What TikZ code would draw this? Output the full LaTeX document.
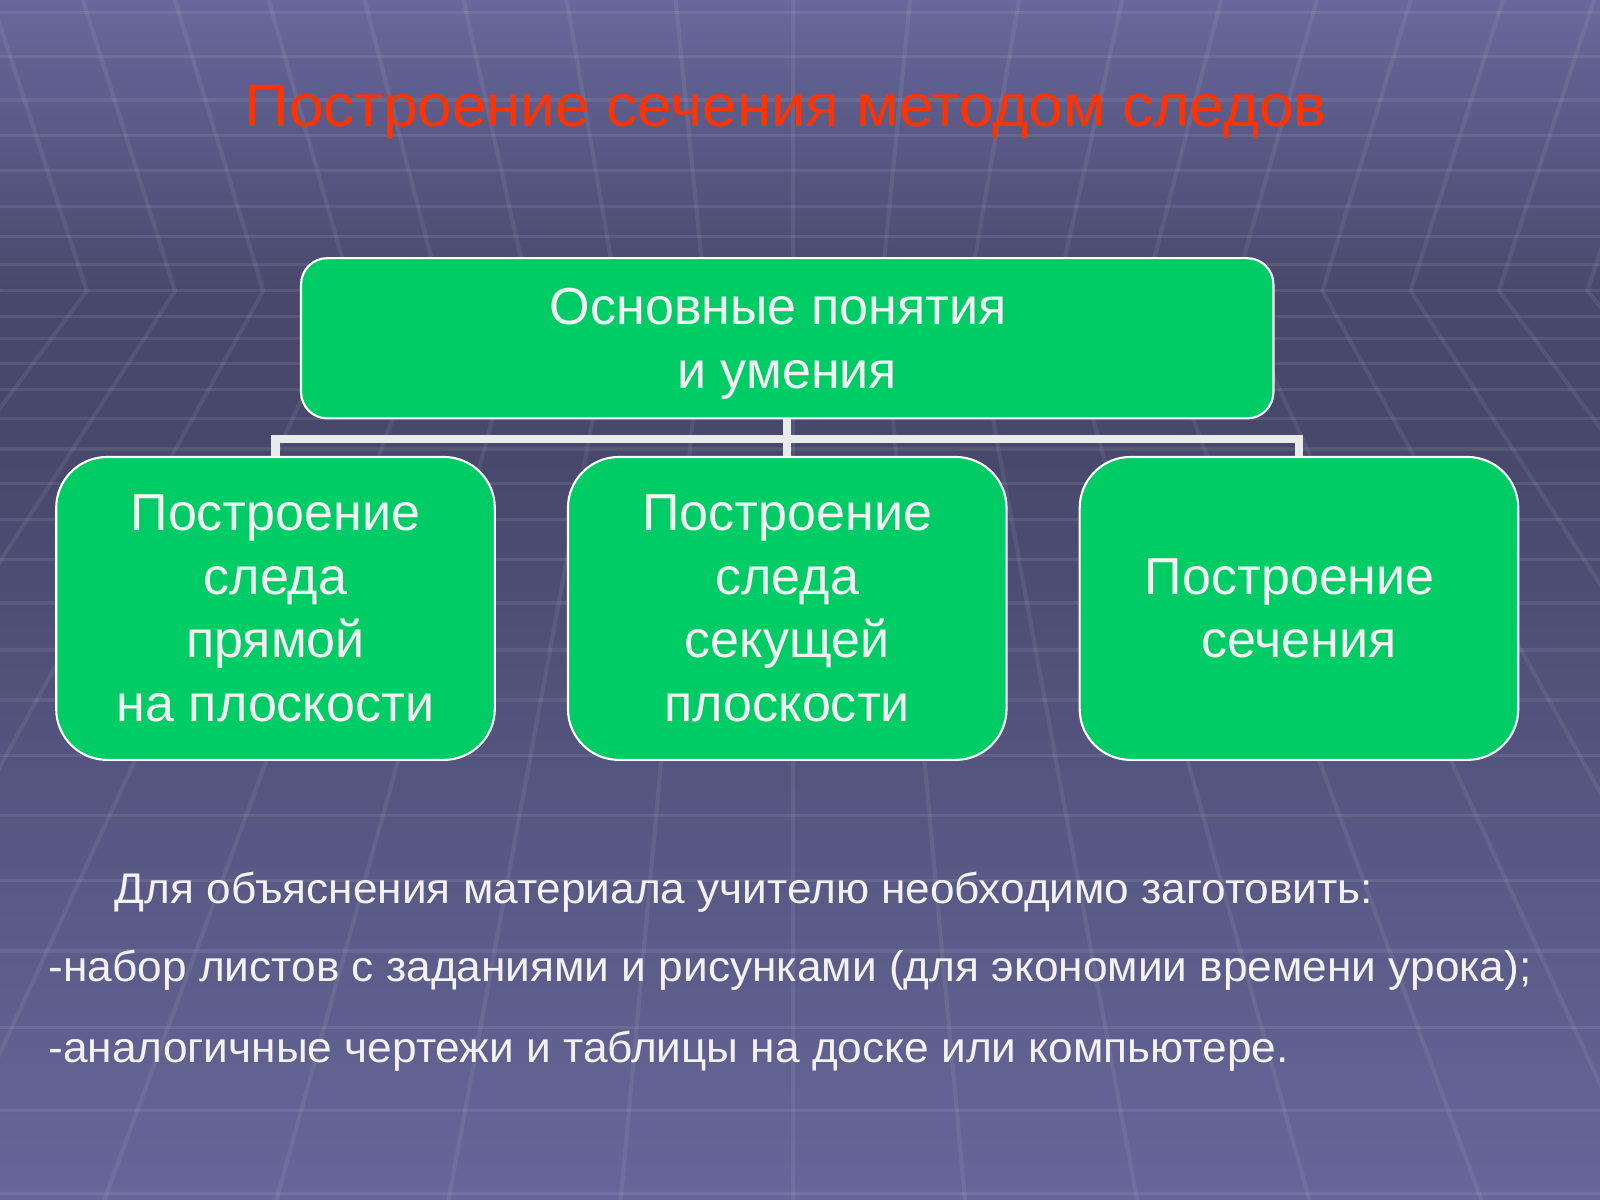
\documentclass[tikz,border=0pt]{standalone}
\usepackage{fontspec}
\setmainfont{Liberation Sans}
\usepackage{graphicx}
\definecolor{bgtop}{RGB}{104,104,156}
\definecolor{bgmid}{RGB}{72,72,108}
\definecolor{bgbot}{RGB}{102,102,154}
\definecolor{boxgreen}{RGB}{0,204,102}
\definecolor{titlered}{RGB}{255,51,0}
\definecolor{txtcol}{RGB}{242,242,242}
\definecolor{conncol}{RGB}{234,234,234}
\pgfdeclareverticalshading{bgshade}{100bp}{color(0bp)=(bgbot); color(25bp)=(bgbot); color(56bp)=(bgmid); color(62.5bp)=(bgmid); color(75bp)=(bgtop); color(100bp)=(bgtop)}
\newcommand\boxfont{\fontsize{14.81pt}{18.15pt}\selectfont}
\newcommand\tailgap{\rule{5.2pt}{0pt}}
\begin{document}
\begin{tikzpicture}[x=0.29034pt,y=-0.29034pt,
  gridl/.style={draw=white,opacity=0.08,line width=0.9pt},
  gridj/.style={draw=white,opacity=0.07,line width=1.2pt},
  topbox/.style={draw=white,line width=0.6pt,fill=boxgreen,rounded corners=7.5pt,
    minimum width=276.7pt,minimum height=45.6pt,inner sep=0pt,text=txtcol},
  childbox/.style={draw=white,line width=0.6pt,fill=boxgreen,rounded corners=14.5pt,
    minimum width=124.8pt,minimum height=86.2pt,inner sep=0pt,text=txtcol},
  conn/.style={draw=conncol,line width=2.3pt,line cap=butt,line join=miter},
  titletext/.style={text=titlered,inner sep=0pt,anchor=base},
  bodytext/.style={text=txtcol,inner sep=0pt,anchor=base west}]
\useasboundingbox (0,0) rectangle (1568,1176);
\shade[shading=bgshade] (0,0) rectangle (1568,1176);
\begin{scope}
\clip (0,0) rectangle (1568,1176);
\foreach \k in {-10,...,10}{
  \pgfmathsetmacro\xtop{777+86.5*(\k)+100*(1-exp(-abs(\k)/3))*(\k)/max(abs(\k),1)}
  \draw[gridj] (\xtop,0) -- ({777+86.5*(\k)},285) -- ({777+168.7*(\k)},1176);
}
\foreach \yy in {12,55,98,133,167,202,232,259,285,310,332,356,382,410,440,474,509,548,591,637,686,740,799,863,932,1007,1088,1170}{
  \draw[gridl] (0,\yy) -- (1568,\yy);
}
\end{scope}
% title
\node[titletext] (title) at (770,124) {\resizebox{307.8pt}{\height}{\fontsize{17.04pt}{20pt}\selectfont Построение сечения методом следов}};
% boxes
\node[topbox] (top) at (771.5,331.5) {\parbox[c][45pt][c]{270pt}{\vspace*{3.2pt}\centering\boxfont Основные понятия\tailgap\\и умения}};
\node[childbox] (b1) at (270,596.25) {\parbox[c][85pt][c]{120pt}{\centering\boxfont Построение\\следа\\прямой\\на плоскости}};
\node[childbox] (b2) at (771.5,596.25) {\parbox[c][85pt][c]{120pt}{\centering\boxfont Построение\\следа\\секущей\\плоскости}};
\node[childbox] (b3) at (1273,596.25) {\parbox[c][85pt][c]{120pt}{\centering\boxfont Построение\tailgap\\сечения}};
% connectors
\coordinate (bar) at (771.5,430);
\draw[conn] (top.south) -- (top.south |- bar);
\draw[conn] (b1.north) -- (b1.north |- bar) -- (b3.north |- bar) -- (b3.north);
\draw[conn] (top.south |- bar) -- (b2.north);
% bottom text
\node[bodytext] (t1) at (112,885) {\resizebox{358pt}{\height}{\fontsize{12.2pt}{14pt}\selectfont Для объяснения материала учителю необходимо заготовить:}};
\node[bodytext] (t2) at (47,962) {\resizebox{421.9pt}{\height}{\fontsize{12.2pt}{14pt}\selectfont -набор листов с заданиями и рисунками (для экономии времени урока);}};
\node[bodytext] (t3) at (47,1041) {\resizebox{352.8pt}{\height}{\fontsize{12.2pt}{14pt}\selectfont -аналогичные чертежи и таблицы на доске или компьютере.}};
\end{tikzpicture}
\end{document}
